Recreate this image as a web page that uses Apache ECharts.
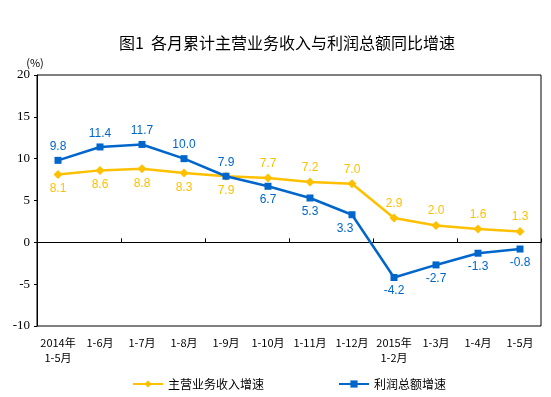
<!DOCTYPE html>
<html>
<head>
<meta charset="utf-8">
<script src="https://cdn.jsdelivr.net/npm/echarts@6/dist/echarts.min.js"></script>
<style>
html, body { margin: 0; padding: 0; background: #fff; }
#chart { width: 551px; height: 397px; }
</style>
</head>
<body>
<div id="chart"></div>
<script>
// 横轴月份
var months = ['2014年\n1-5月', '1-6月', '1-7月', '1-8月', '1-9月', '1-10月', '1-11月', '1-12月', '2015年\n1-2月', '1-3月', '1-4月', '1-5月'];
// 主营业务收入增速
var revenueGrowth = [8.1, 8.6, 8.8, 8.3, 7.9, 7.7, 7.2, 7.0, 2.9, 2.0, 1.6, 1.3];
// 利润总额增速
var profitGrowth = [9.8, 11.4, 11.7, 10.0, 7.9, 6.7, 5.3, 3.3, -4.2, -2.7, -1.3, -0.8];
// 纵轴刻度
var yTicks = [-10, -5, 0, 5, 10, 15, 20];

var yellow = '#FFC000';
var blue = '#0066CC';

// 前五期收入标签在下，利润标签在上
function buildData(values, firstPos, restPos) {
	var list = [];
	for (var i = 0; i < values.length; i++) {
		var pos = i < 5 ? firstPos : restPos;
		var item = { value: values[i], label: { position: pos } };
		if (values === profitGrowth && i == 7) {
			item.label.offset = [-7, 0];
		}
		list.push(item);
	}
	return list;
}

var myChart = echarts.init(document.getElementById('chart'), null, { renderer: 'canvas' });
var option = {
	animation: false,
	backgroundColor: '#fff',
	title: {
		text: '图1  各月累计主营业务收入与利润总额同比增速',
		left: 114,
		top: 30,
		textStyle: {
			fontFamily: 'Noto Sans CJK SC',
			fontSize: 16,
			fontWeight: 'normal',
			color: '#000'
		}
	},
	legend: {
		left: 127,
		top: 373,
		itemWidth: 30,
		itemHeight: 9,
		itemGap: 74,
		textStyle: { fontFamily: 'Noto Sans CJK SC', fontSize: 12, color: '#000' },
		data: ['主营业务收入增速', '利润总额增速']
	},
	grid: {
		left: 37,
		right: 10,
		top: 75,
		bottom: 71,
		show: true,
		borderColor: '#000',
		borderWidth: 1,
		containLabel: false
	},
	xAxis: [{
		type: 'category',
		data: months,
		position: 'bottom',
		boundaryGap: true,
		axisLine: { show: false, onZero: false },
		axisTick: { show: false },
		axisLabel: {
			interval: 0,
			margin: 9,
			fontFamily: 'Noto Sans CJK SC',
			fontSize: 11,
			lineHeight: 15,
			color: '#000'
		},
		splitLine: { show: false }
	}, {
		type: 'category',
		data: months,
		position: 'top',
		boundaryGap: true,
		axisLine: { show: true, onZero: true, lineStyle: { color: '#000', width: 1 } },
		axisTick: { show: true, inside: false, length: 4, lineStyle: { color: '#000' } },
		axisLabel: { show: false },
		splitLine: { show: false }
	}],
	yAxis: {
		type: 'value',
		min: yTicks[0],
		max: yTicks[yTicks.length - 1],
		interval: 5,
		name: '(%)',
		nameLocation: 'end',
		nameGap: 6,
		nameTextStyle: { fontFamily: 'Noto Sans CJK SC', fontSize: 11, color: '#000', padding: [0, 0, 0, -4] },
		axisLine: { show: true, lineStyle: { color: '#000' } },
		axisTick: { show: true, length: 3, lineStyle: { color: '#000' } },
		axisLabel: {
			margin: 7,
			fontFamily: 'Liberation Serif',
			fontSize: 13,
			color: '#000'
		},
		splitLine: { show: false }
	},
	series: [{
		name: '主营业务收入增速',
		type: 'line',
		xAxisIndex: 0,
		data: buildData(revenueGrowth, 'bottom', 'top'),
		symbol: 'diamond',
		symbolSize: 9,
		lineStyle: { color: yellow, width: 2.5 },
		itemStyle: { color: yellow },
		label: {
			show: true,
			distance: 4,
			formatter: function(p) { return p.value.toFixed(1); },
			fontFamily: 'Liberation Sans',
			fontSize: 12,
			color: yellow
		},
		z: 2
	}, {
		name: '利润总额增速',
		type: 'line',
		xAxisIndex: 0,
		data: buildData(profitGrowth, 'top', 'bottom'),
		symbol: 'rect',
		symbolSize: 7,
		lineStyle: { color: blue, width: 2.5 },
		itemStyle: { color: blue },
		label: {
			show: true,
			distance: 4,
			formatter: function(p) { return p.value.toFixed(1); },
			fontFamily: 'Liberation Sans',
			fontSize: 12,
			color: blue
		},
		z: 3
	}]
};
myChart.setOption(option, true);
</script>
</body>
</html>
